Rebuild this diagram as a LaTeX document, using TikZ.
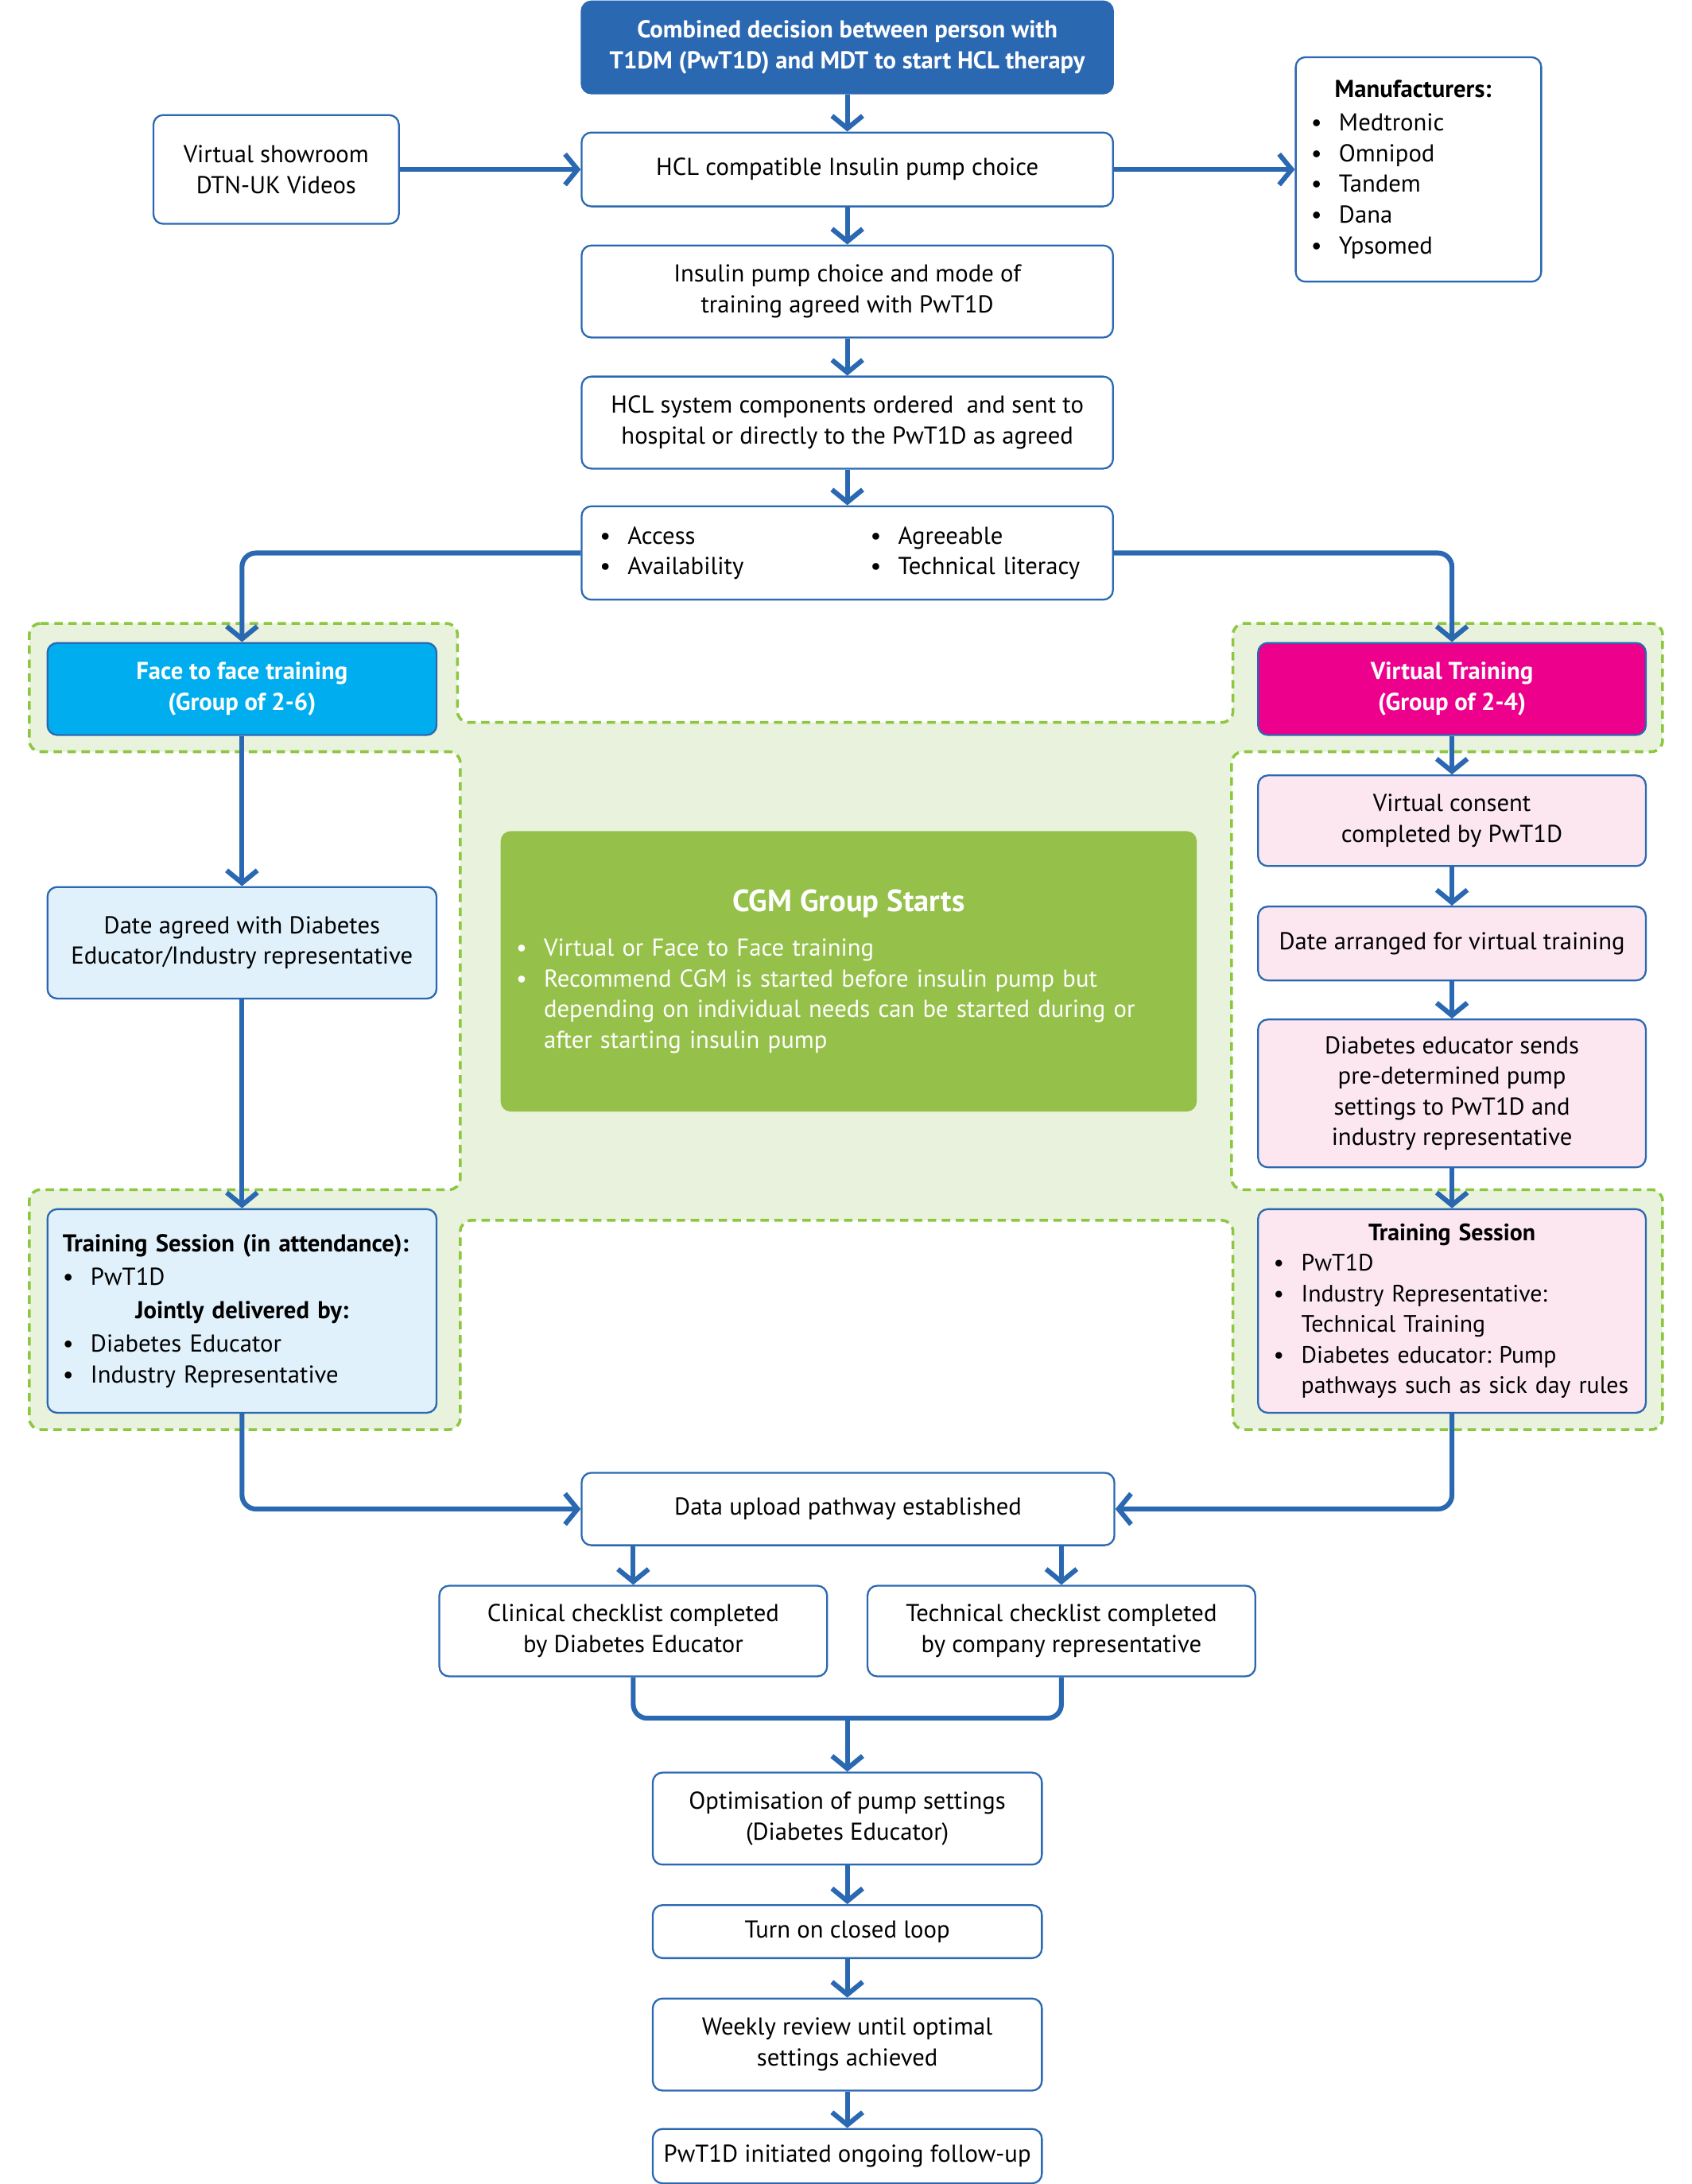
\documentclass[tikz,border=0pt]{standalone}
\usepackage{fontspec}
\setmainfont{PT Sans}
\usetikzlibrary{arrows.meta}
\frenchspacing

\definecolor{pathblue}{HTML}{2B68B2}
\definecolor{facecyan}{HTML}{00AEEF}
\definecolor{virtmagenta}{HTML}{EC008C}
\definecolor{cgmgreen}{HTML}{95C14B}
\definecolor{zonegreen}{HTML}{E8F2DC}
\definecolor{dashgreen}{HTML}{8DC63F}
\definecolor{faceblue}{HTML}{E0F1FB}
\definecolor{virtpink}{HTML}{FCE7F1}

\newcommand{\bitem}[1]{\makebox[20pt][l]{\textbullet}#1}

\tikzset{
	box/.style={shape=rectangle, draw=pathblue, line width=1.3pt, rounded corners=7pt, fill=white, align=center, inner sep=0pt, font=\fontsize{17.5}{22}\selectfont},
	headbox/.style={box, text=white, font=\bfseries\fontsize{17.5}{22}\selectfont},
	wire/.style={draw=pathblue, line width=3.5pt, -{Straight Barb[length=9pt,width=22pt]}, rounded corners=10pt},
}

\begin{document}
\begin{tikzpicture}[x=1pt, y=-1pt]
	\useasboundingbox (0,0) rectangle (1213,1566);
	% Paths, nodes and wires:
	\draw[fill=zonegreen, draw=dashgreen, line width=2pt, dash pattern={on 6pt off 4pt}, rounded corners=8pt]
		(21,447) -- (328,447) -- (328,518) -- (884,518) -- (884,447) -- (1192,447) -- (1192,539) -- (883,539) -- (883,853) -- (1192,853) -- (1192,1025) -- (884,1025) -- (884,875) -- (330,875) -- (330,1025) -- (21,1025) -- (21,853) -- (330,853) -- (330,539) -- (21,539) -- cycle;
	\node[headbox, fill=pathblue, minimum width=381pt, minimum height=66pt](decision) at (607.5, 34){Combined decision between person with\\T1DM (PwT1D) and MDT to start HCL therapy};
	\node[box, minimum width=176pt, minimum height=78pt](showroom) at (198, 121.5){Virtual showroom\\DTN-UK Videos};
	\node[box, minimum width=381pt, minimum height=53pt](choice) at (607.5, 121.5){HCL compatible Insulin pump choice};
	\node[box, minimum width=176pt, minimum height=161pt, text width=154pt, align=left](manuf) at (1017, 121.5){{\bfseries\hspace*{17pt}Manufacturers:}\\[2pt]\bitem{Medtronic}\\\bitem{Omnipod}\\\bitem{Tandem}\\\bitem{Dana}\\\bitem{Ypsomed}};
	\node[box, minimum width=381pt, minimum height=66pt](agreed) at (607.5, 209){Insulin pump choice and mode of\\training agreed with PwT1D};
	\node[box, minimum width=381pt, minimum height=66pt](ordered) at (607.5, 303){HCL system components ordered \ and sent to\\hospital or directly to the PwT1D as agreed};
	\node[box, minimum width=381pt, minimum height=67pt, text width=355pt, align=left](factors) at (607.5, 396.5){\makebox[194pt][l]{\bitem{Access}}\bitem{Agreeable}\\\makebox[194pt][l]{\bitem{Availability}}\bitem{Technical literacy}};
	\node[headbox, fill=facecyan, minimum width=279pt, minimum height=66pt](f2f) at (173.5, 494){Face to face training\\(Group of 2-6)};
	\node[headbox, fill=virtmagenta, minimum width=278pt, minimum height=66pt](virtual) at (1041, 494){Virtual Training\\(Group of 2-4)};
	\node[box, fill=faceblue, minimum width=279pt, minimum height=80pt](dateagreed) at (173.5, 676){Date agreed with Diabetes\\Educator/Industry representative};
	\node[box, fill=virtpink, minimum width=278pt, minimum height=65pt](consent) at (1041, 588.5){Virtual consent\\completed by PwT1D};
	\node[box, fill=virtpink, minimum width=278pt, minimum height=53pt](datearranged) at (1041, 676.5){Date arranged for virtual training};
	\node[box, fill=virtpink, minimum width=278pt, minimum height=106pt](sends) at (1041, 784){Diabetes educator sends\\pre-determined pump\\settings to PwT1D and\\industry representative};
	\node[box, fill=faceblue, minimum width=279pt, minimum height=146pt, text width=257pt, align=left](sessionL) at (173.5, 940){{\bfseries Training Session (in attendance):}\\[2pt]\bitem{PwT1D}\\[2pt]\makebox[257pt]{\bfseries Jointly delivered by:}\\[2pt]\bitem{Diabetes Educator}\\\bitem{Industry Representative}};
	\node[box, fill=virtpink, minimum width=278pt, minimum height=146pt, text width=256pt, align=left, font=\fontsize{17}{22}\selectfont](sessionR) at (1041, 940){\makebox[256pt]{\bfseries Training Session}\\\bitem{PwT1D}\\\bitem{Industry Representative:}\\\hspace*{20pt}Technical Training\\\bitem{Diabetes educator: Pump}\\\hspace*{20pt}\mbox{pathways such as sick day rules}};
	\node[box, draw=none, fill=cgmgreen, text=white, minimum width=499pt, minimum height=201pt, text width=477pt, align=left](cgm) at (608.5, 696.5){\makebox[477pt]{\bfseries\fontsize{22}{26}\selectfont CGM Group Starts}\\[10pt]\bitem{Virtual or Face to Face training}\\\bitem{Recommend CGM is started before insulin pump but}\\\hspace*{20pt}depending on individual needs can be started during or\\\hspace*{20pt}after starting insulin pump};
	\node[box, minimum width=382pt, minimum height=52pt](upload) at (608, 1082){Data upload pathway established};
	\node[box, minimum width=278pt, minimum height=65pt](clinical) at (454, 1169.5){Clinical checklist completed\\by Diabetes Educator};
	\node[box, minimum width=278pt, minimum height=65pt](technical) at (761, 1169.5){Technical checklist completed\\by company representative};
	\node[box, minimum width=279pt, minimum height=66pt](optim) at (607.5, 1304){Optimisation of pump settings\\(Diabetes Educator)};
	\node[box, minimum width=279pt, minimum height=38pt](turnon) at (607.5, 1385){Turn on closed loop};
	\node[box, minimum width=279pt, minimum height=66pt](weekly) at (607.5, 1466){Weekly review until optimal\\settings achieved};
	\node[box, minimum width=279pt, minimum height=39pt](followup) at (607.5, 1546){PwT1D initiated ongoing follow-up};
	\coordinate (join) at (607.5, 1232);
	\draw[wire] (decision) -- (choice);
	\draw[wire] (showroom) -- (choice);
	\draw[wire] (choice.east) -- (choice.east -| manuf.west);
	\draw[wire] (choice) -- (agreed);
	\draw[wire] (agreed) -- (ordered);
	\draw[wire] (ordered) -- (factors);
	\draw[wire] (factors.west) -| (f2f.north);
	\draw[wire] (factors.east) -| (virtual.north);
	\draw[wire] (f2f) -- (dateagreed);
	\draw[wire] (dateagreed) -- (sessionL);
	\draw[wire] (virtual) -- (consent);
	\draw[wire] (consent) -- (datearranged);
	\draw[wire] (datearranged) -- (sends);
	\draw[wire] (sends) -- (sessionR);
	\draw[wire] (sessionL.south) |- (upload.west);
	\draw[wire] (sessionR.south) |- (upload.east);
	\draw[wire] (upload.south -| clinical.north) -- (clinical.north);
	\draw[wire] (upload.south -| technical.north) -- (technical.north);
	\draw[wire, -] (clinical.south) |- (join) -| (technical.south);
	\draw[wire] (join) -- (optim);
	\draw[wire] (optim) -- (turnon);
	\draw[wire] (turnon) -- (weekly);
	\draw[wire] (weekly) -- (followup);
\end{tikzpicture}
\end{document}
